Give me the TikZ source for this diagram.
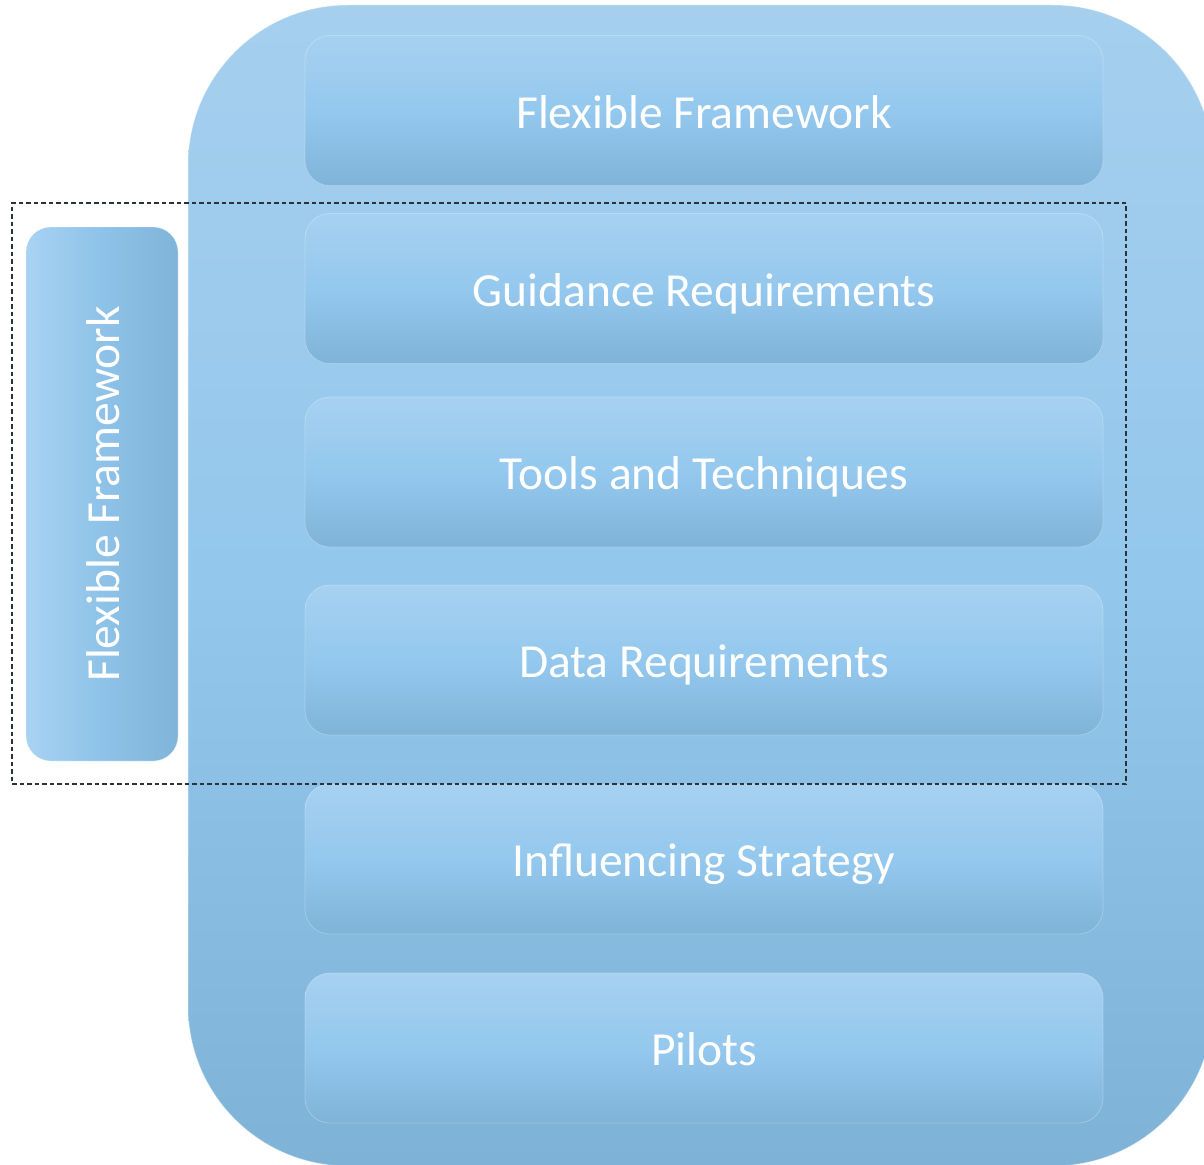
\documentclass[tikz,border=0pt]{standalone}
\usepackage{fontspec}
\setmainfont{Carlito}

\definecolor{grouptop}{RGB}{166,207,238}
\definecolor{groupmid}{RGB}{147,199,236}
\definecolor{groupbot}{RGB}{127,178,215}
\definecolor{rowtop}{RGB}{166,209,241}
\definecolor{rowmid}{RGB}{148,200,238}
\definecolor{rowbot}{RGB}{128,179,216}
\definecolor{sidelight}{RGB}{168,211,243}
\definecolor{sidedark}{RGB}{128,180,217}
\definecolor{framegray}{RGB}{45,50,55}

\tikzset{
    rowbox/.style={rounded corners=25pt, minimum width=798pt, minimum height=150pt,
        top color=rowtop, bottom color=rowbot, middle color=rowmid,
        draw=white, draw opacity=0.25, line width=0.8pt,
        text=white, font=\fontsize{47.5}{56}\selectfont,
        text height=35pt, text depth=0pt, inner sep=0pt},
    sidebox/.style={rowbox, rotate=90, minimum width=534pt, minimum height=152pt,
        left color=sidelight, right color=sidedark, middle color=rowmid!70!sidedark},
    framebox/.style={draw=framegray, line width=1.3pt, dash pattern=on 4.5pt off 3pt,
        minimum width=1114pt, minimum height=581pt, inner sep=0pt}
}

\begin{document}
\begin{tikzpicture}[x=1pt,y=-1pt]
        \useasboundingbox (0,0) rectangle (1204,1164);

        % outer group
        \node[rounded corners=160pt, minimum width=1025pt, minimum height=1161pt,
            top color=grouptop, bottom color=groupbot, middle color=groupmid,
            draw=white, draw opacity=0.3, line width=1pt, inner sep=0pt]
            (group) at (700.5,585.5) {};

        % rows
        \node[rowbox] (ff) at (704,110.5) {Flexible Framework};
        \node[rowbox] (guide) at (704,288.5) {Guidance Requirements};
        \node[rowbox] (tools) at (704,472) {Tools and Techniques};
        \node[rowbox] (data) at (704,660) {Data Requirements};
        \node[rowbox] (infl) at (704,859) {Influencing Strategy};
        \node[rowbox] (pilots) at (704,1048) {Pilots};

        % side label and dashed group
        \node[sidebox] (side) at (102,494) {Flexible Framework};
        \node[framebox] (frame) at (569,493.5) {};
    \end{tikzpicture}
\end{document}
